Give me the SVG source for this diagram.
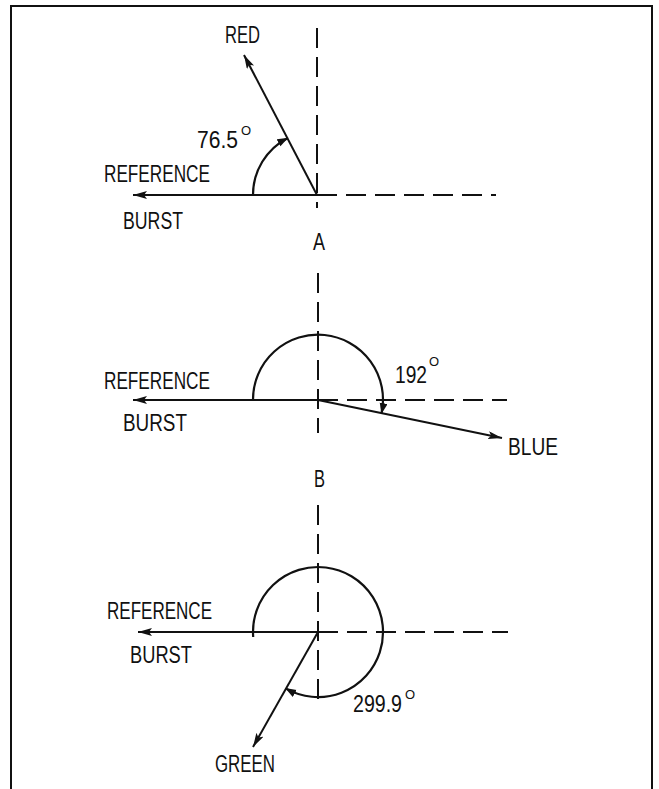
<svg xmlns="http://www.w3.org/2000/svg" width="659" height="789" viewBox="0 0 659 789">
<style>
.ln{stroke:#111;stroke-width:2;fill:none}
.ds{stroke:#111;stroke-width:2;fill:none;stroke-dasharray:20 9}
.vec{stroke:#111;stroke-width:2;fill:none;marker-end:url(#ah)}
.arc{stroke:#111;stroke-width:2.2;fill:none;marker-end:url(#ahs)}
text{font-family:"Liberation Sans",Arial,sans-serif;font-size:23px;fill:#111}
.sup{font-size:13px}
</style>
<defs>
<marker id="ah" markerUnits="userSpaceOnUse" markerWidth="16" markerHeight="10" refX="14" refY="4" orient="auto">
<path d="M0,0 L14,4 L0,8 L3,4 z" fill="#111"/>
</marker>
<marker id="ahs" markerUnits="userSpaceOnUse" markerWidth="14" markerHeight="10" refX="10" refY="4" orient="auto">
<path d="M0,0 L11,4 L0,8 z" fill="#111"/>
</marker>
</defs>
<rect width="659" height="789" fill="#fff"/>
<g id="frame">
<path class="ln" d="M11,789 V6 H652 V789" stroke-width="2.5"/>
</g>
<g id="connectors">
<!-- Panel A -->
<line class="ds" x1="317" y1="28" x2="317" y2="208"/>
<line class="ds" x1="317" y1="195" x2="496" y2="195" stroke-dasharray="24 10"/>
<line class="vec" x1="317" y1="195" x2="133" y2="195"/>
<line class="vec" x1="317" y1="195" x2="244" y2="55"/>
<path class="arc" d="M253,195 A64,64 0 0 1 287.4,138.2"/>
<!-- Panel B -->
<line class="ds" x1="318" y1="273" x2="318" y2="433"/>
<line class="ds" x1="318" y1="400" x2="507" y2="400" stroke-dasharray="24 10"/>
<line class="vec" x1="318" y1="400" x2="133" y2="400"/>
<line class="vec" x1="318" y1="400" x2="502" y2="438"/>
<path class="arc" d="M253,400 A65,65 0 1 1 381.6,413.1"/>
<!-- Panel C -->
<line class="ds" x1="318" y1="505" x2="318" y2="707"/>
<line class="ds" x1="318" y1="632" x2="508" y2="632" stroke-dasharray="24 10"/>
<line class="vec" x1="318" y1="632" x2="138" y2="632"/>
<line class="vec" x1="318" y1="632" x2="253" y2="747"/>
<path class="arc" d="M253.2,637 A65,65 0 1 1 286,688.6"/>
</g>
<g id="panelA">
<text x="225" y="43" textLength="35" lengthAdjust="spacingAndGlyphs">RED</text>
<text x="197" y="148"><tspan textLength="41" lengthAdjust="spacingAndGlyphs">76.5</tspan><tspan class="sup" x="241" y="135">O</tspan></text>
<text x="104" y="182" textLength="106" lengthAdjust="spacingAndGlyphs">REFERENCE</text>
<text x="123" y="229" textLength="60" lengthAdjust="spacingAndGlyphs">BURST</text>
<text x="313" y="250" textLength="12" lengthAdjust="spacingAndGlyphs">A</text>
</g>
<g id="panelB">
<text x="104" y="389" textLength="106" lengthAdjust="spacingAndGlyphs">REFERENCE</text>
<text x="123" y="431" textLength="64" lengthAdjust="spacingAndGlyphs">BURST</text>
<text x="395" y="383"><tspan textLength="32" lengthAdjust="spacingAndGlyphs">192</tspan><tspan class="sup" x="429" y="366">O</tspan></text>
<text x="508" y="455" textLength="50" lengthAdjust="spacingAndGlyphs">BLUE</text>
<text x="314" y="487" textLength="11" lengthAdjust="spacingAndGlyphs">B</text>
</g>
<g id="panelC">
<text x="107" y="619" textLength="105" lengthAdjust="spacingAndGlyphs">REFERENCE</text>
<text x="130" y="663" textLength="62" lengthAdjust="spacingAndGlyphs">BURST</text>
<text x="353" y="712"><tspan textLength="49" lengthAdjust="spacingAndGlyphs">299.9</tspan><tspan class="sup" x="405" y="699">O</tspan></text>
<text x="215" y="772" textLength="60" lengthAdjust="spacingAndGlyphs">GREEN</text>
</g>
</svg>
